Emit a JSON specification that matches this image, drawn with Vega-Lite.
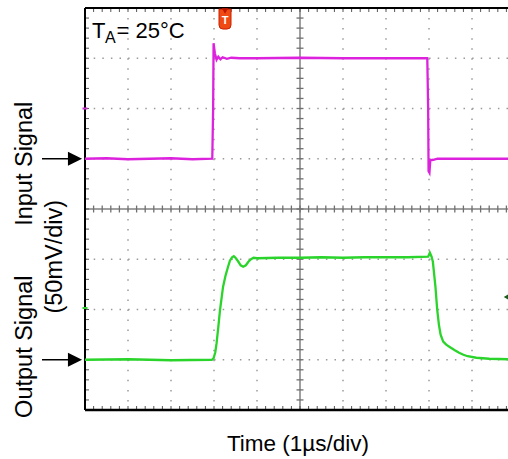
{
  "$schema": "https://vega.github.io/schema/vega-lite/v6.json",
  "width": 423,
  "height": 402,
  "autosize": {"type": "none"},
  "padding": {"left": 85, "top": 8, "right": 0, "bottom": 49},
  "background": "white",
  "config": {"view": {"stroke": null}, "font": "Liberation Sans"},
  "datasets": {
    "cx": [0.2,0.4,0.6,0.8,1,1.2,1.4,1.6,1.8,2,2.2,2.4,2.6,2.8,3,3.2,3.4,3.6,3.8,4,4.2,4.4,4.6,4.8,5,5.2,5.4,5.6,5.8,6,6.2,6.4,6.6,6.8,7,7.2,7.4,7.6,7.8,8,8.2,8.4,8.6,8.8,9,9.2,9.4,9.6,9.8],
    "cy": [0.2,0.4,0.6,0.8,1,1.2,1.4,1.6,1.8,2,2.2,2.4,2.6,2.8,3,3.2,3.4,3.6,3.8,4,4.2,4.4,4.6,4.8,5,5.2,5.4,5.6,5.8,6,6.2,6.4,6.6,6.8,7,7.2,7.4,7.6,7.8]
  },
  "layer": [
    {
      "data": {"values": [1, 2, 3, 4, 6, 7, 8, 9]},
      "mark": {"type": "rule", "color": "#9a9a9a", "strokeWidth": 1.5, "strokeDash": [1.5, 8.55]},
      "encoding": {
        "x": {
          "field": "data", "type": "quantitative",
          "scale": {"domain": [0, 9.837], "nice": false, "zero": false},
          "axis": null
        }
      }
    },
    {
      "data": {"values": [1, 2, 3, 5, 6, 7]},
      "mark": {"type": "rule", "color": "#9a9a9a", "strokeWidth": 1.5, "strokeDash": [1.5, 7.1]},
      "encoding": {
        "y": {
          "field": "data", "type": "quantitative",
          "scale": {"domain": [0, 8], "nice": false, "zero": false},
          "axis": null
        }
      }
    },
    {
      "data": {"values": [5]},
      "mark": {"type": "rule", "color": "#808080", "strokeWidth": 1.5},
      "encoding": {"x": {"field": "data", "type": "quantitative", "axis": null}}
    },
    {
      "data": {"values": [4]},
      "mark": {"type": "rule", "color": "#808080", "strokeWidth": 1.5},
      "encoding": {"y": {"field": "data", "type": "quantitative", "axis": null}}
    },
    {
      "data": {"name": "cx"},
      "mark": {"type": "tick", "orient": "vertical", "size": 7, "thickness": 1.3, "color": "#707070", "opacity": 1},
      "encoding": {
        "x": {"field": "data", "type": "quantitative", "axis": null},
        "y": {"datum": 4, "type": "quantitative", "axis": null}
      }
    },
    {
      "data": {"name": "cy"},
      "mark": {"type": "tick", "orient": "horizontal", "size": 7, "thickness": 1.3, "color": "#707070", "opacity": 1},
      "encoding": {
        "y": {"field": "data", "type": "quantitative", "axis": null},
        "x": {"datum": 5, "type": "quantitative", "axis": null}
      }
    },
    {
      "data": {"name": "cx"},
      "mark": {"type": "tick", "orient": "vertical", "size": 8, "thickness": 1, "color": "#555555", "opacity": 1, "clip": true},
      "encoding": {
        "x": {"field": "data", "type": "quantitative", "axis": null},
        "y": {"datum": 8, "type": "quantitative", "axis": null}
      }
    },
    {
      "data": {"name": "cx"},
      "mark": {"type": "tick", "orient": "vertical", "size": 8, "thickness": 1, "color": "#555555", "opacity": 1, "clip": true},
      "encoding": {
        "x": {"field": "data", "type": "quantitative", "axis": null},
        "y": {"datum": 0, "type": "quantitative", "axis": null}
      }
    },
    {
      "data": {"name": "cy"},
      "mark": {"type": "tick", "orient": "horizontal", "size": 8, "thickness": 1, "color": "#555555", "opacity": 1, "clip": true},
      "encoding": {
        "y": {"field": "data", "type": "quantitative", "axis": null},
        "x": {"datum": 0, "type": "quantitative", "axis": null}
      }
    },
    {
      "data": {"values": [{}]},
      "layer": [
        {
          "mark": {"type": "rule", "color": "#000000", "strokeWidth": 2},
          "encoding": {"x": {"datum": 0, "type": "quantitative", "axis": null}}
        },
        {
          "mark": {"type": "rule", "color": "#000000", "strokeWidth": 2},
          "encoding": {"y": {"datum": 8, "type": "quantitative", "axis": null}}
        },
        {
          "mark": {"type": "rule", "color": "#000000", "strokeWidth": 2.5},
          "encoding": {"y": {"datum": 0, "type": "quantitative", "axis": null}}
        }
      ]
    },
    {
      "data": {"values": [
        {"t": 0, "v": 5.0}, {"t": 0.5, "v": 5.01}, {"t": 1, "v": 4.99}, {"t": 1.5, "v": 5.0},
        {"t": 2, "v": 5.01}, {"t": 2.5, "v": 4.99}, {"t": 2.96, "v": 5.0}, {"t": 2.98, "v": 6.0},
        {"t": 2.99, "v": 7.3}, {"t": 3.02, "v": 7.1}, {"t": 3.06, "v": 6.97}, {"t": 3.1, "v": 7.03},
        {"t": 3.15, "v": 6.98}, {"t": 3.2, "v": 7.02}, {"t": 3.3, "v": 6.99}, {"t": 3.4, "v": 7.01},
        {"t": 3.6, "v": 7.0}, {"t": 4, "v": 7.0}, {"t": 5, "v": 7.01}, {"t": 6, "v": 7.0},
        {"t": 7, "v": 7.0}, {"t": 7.96, "v": 7.0}, {"t": 7.98, "v": 6.0}, {"t": 7.99, "v": 4.75},
        {"t": 8.01, "v": 4.72}, {"t": 8.03, "v": 4.97}, {"t": 8.1, "v": 4.98}, {"t": 8.2, "v": 5.0},
        {"t": 9, "v": 5.0}, {"t": 9.84, "v": 5.0}
      ]},
      "mark": {"type": "line", "color": "#dd22dd", "strokeWidth": 2.3},
      "encoding": {
        "x": {"field": "t", "type": "quantitative", "axis": null},
        "y": {"field": "v", "type": "quantitative", "axis": null}
      }
    },
    {
      "data": {"values": [
        {"t": 0, "v": 1.0}, {"t": 1, "v": 1.01}, {"t": 2, "v": 0.99}, {"t": 2.95, "v": 1.0},
        {"t": 2.99, "v": 1.03}, {"t": 3.03, "v": 1.15}, {"t": 3.06, "v": 1.33}, {"t": 3.1, "v": 1.65},
        {"t": 3.14, "v": 1.99}, {"t": 3.18, "v": 2.25}, {"t": 3.21, "v": 2.45}, {"t": 3.27, "v": 2.68},
        {"t": 3.32, "v": 2.83}, {"t": 3.37, "v": 2.97}, {"t": 3.42, "v": 3.04}, {"t": 3.46, "v": 3.06},
        {"t": 3.5, "v": 3.03}, {"t": 3.56, "v": 2.96}, {"t": 3.62, "v": 2.88}, {"t": 3.68, "v": 2.85},
        {"t": 3.74, "v": 2.88}, {"t": 3.8, "v": 2.95}, {"t": 3.86, "v": 3.0}, {"t": 3.92, "v": 3.03},
        {"t": 4.0, "v": 3.02}, {"t": 4.5, "v": 3.03}, {"t": 5, "v": 3.03}, {"t": 5.5, "v": 3.04},
        {"t": 6, "v": 3.03}, {"t": 6.5, "v": 3.04}, {"t": 7, "v": 3.04}, {"t": 7.5, "v": 3.04},
        {"t": 7.98, "v": 3.05}, {"t": 8.02, "v": 3.13}, {"t": 8.06, "v": 3.05}, {"t": 8.09, "v": 2.95},
        {"t": 8.12, "v": 2.7}, {"t": 8.15, "v": 2.45}, {"t": 8.19, "v": 2.0}, {"t": 8.23, "v": 1.7},
        {"t": 8.27, "v": 1.5}, {"t": 8.33, "v": 1.36}, {"t": 8.4, "v": 1.3}, {"t": 8.49, "v": 1.25},
        {"t": 8.6, "v": 1.19}, {"t": 8.7, "v": 1.14}, {"t": 8.8, "v": 1.1}, {"t": 8.9, "v": 1.07},
        {"t": 9.1, "v": 1.04}, {"t": 9.4, "v": 1.02}, {"t": 9.84, "v": 1.01}
      ]},
      "mark": {"type": "line", "color": "#2ad42a", "strokeWidth": 2.3},
      "encoding": {
        "x": {"field": "t", "type": "quantitative", "axis": null},
        "y": {"field": "v", "type": "quantitative", "axis": null}
      }
    },
    {
      "data": {"values": [{"lvl": 5}, {"lvl": 1}]},
      "layer": [
        {
          "mark": {"type": "rule", "color": "#000000", "strokeWidth": 1.5},
          "encoding": {
            "x": {"datum": -1.0, "type": "quantitative", "axis": null},
            "x2": {"datum": -0.3},
            "y": {"field": "lvl", "type": "quantitative", "axis": null}
          }
        },
        {
          "mark": {"type": "point", "shape": "M-1,-1L1,0L-1,1Z", "filled": true, "color": "#000000", "size": 200, "opacity": 1},
          "encoding": {
            "x": {"datum": -0.233, "type": "quantitative", "axis": null},
            "y": {"field": "lvl", "type": "quantitative", "axis": null}
          }
        }
      ]
    },
    {
      "data": {"values": [{}]},
      "layer": [
        {
          "mark": {"type": "text", "text": "T", "fontSize": 22, "align": "left", "baseline": "alphabetic", "color": "#000000", "font": "Liberation Sans"},
          "encoding": {"x": {"datum": 0.163, "type": "quantitative", "axis": null}, "y": {"datum": 7.4, "type": "quantitative", "axis": null}}
        },
        {
          "mark": {"type": "text", "text": "A", "fontSize": 16, "align": "left", "baseline": "alphabetic", "color": "#000000", "font": "Liberation Sans"},
          "encoding": {"x": {"datum": 0.465, "type": "quantitative", "axis": null}, "y": {"datum": 7.3, "type": "quantitative", "axis": null}}
        },
        {
          "mark": {"type": "text", "text": "= 25°C", "fontSize": 22, "align": "left", "baseline": "alphabetic", "color": "#000000", "font": "Liberation Sans"},
          "encoding": {"x": {"datum": 0.733, "type": "quantitative", "axis": null}, "y": {"datum": 7.4, "type": "quantitative", "axis": null}}
        },
        {
          "mark": {"type": "text", "text": "Time (1µs/div)", "fontSize": 22.5, "align": "center", "baseline": "alphabetic", "color": "#000000", "font": "Liberation Sans"},
          "encoding": {"x": {"datum": 4.953, "type": "quantitative", "axis": null}, "y": {"datum": -0.81, "type": "quantitative", "axis": null}}
        },
        {
          "mark": {"type": "text", "text": "Input Signal", "fontSize": 23.5, "angle": 270, "align": "center", "baseline": "middle", "color": "#000000", "font": "Liberation Sans"},
          "encoding": {"x": {"datum": -1.384, "type": "quantitative", "axis": null}, "y": {"datum": 4.9, "type": "quantitative", "axis": null}}
        },
        {
          "mark": {"type": "text", "text": "Output Signal", "fontSize": 23.5, "angle": 270, "align": "center", "baseline": "middle", "color": "#000000", "font": "Liberation Sans"},
          "encoding": {"x": {"datum": -1.395, "type": "quantitative", "axis": null}, "y": {"datum": 1.26, "type": "quantitative", "axis": null}}
        },
        {
          "mark": {"type": "text", "text": "(50mV/div)", "fontSize": 23.5, "angle": 270, "align": "center", "baseline": "middle", "color": "#000000", "font": "Liberation Sans"},
          "encoding": {"x": {"datum": -0.70, "type": "quantitative", "axis": null}, "y": {"datum": 3.05, "type": "quantitative", "axis": null}}
        },
        {
          "mark": {"type": "point", "shape": "M-0.6,-1L0.6,-1L0.6,0.6Q0.6,1 0.2,1L-0.2,1Q-0.6,1 -0.6,0.6Z", "filled": true, "color": "#f04a14", "stroke": "#c82000", "strokeWidth": 1, "size": 400, "opacity": 1},
          "encoding": {"x": {"datum": 3.256, "type": "quantitative", "axis": null}, "y": {"datum": 7.78, "type": "quantitative", "axis": null}}
        },
        {
          "mark": {"type": "point", "shape": "triangle-down", "filled": true, "color": "#c01800", "size": 40, "opacity": 1},
          "encoding": {"x": {"datum": 3.256, "type": "quantitative", "axis": null}, "y": {"datum": 7.94, "type": "quantitative", "axis": null}}
        },
        {
          "mark": {"type": "text", "text": "T", "fontSize": 11, "fontWeight": "bold", "align": "center", "baseline": "middle", "color": "#ffffff", "font": "Liberation Sans"},
          "encoding": {"x": {"datum": 3.256, "type": "quantitative", "axis": null}, "y": {"datum": 7.74, "type": "quantitative", "axis": null}}
        },
        {
          "mark": {"type": "point", "shape": "triangle-left", "filled": true, "color": "#1a5c1a", "size": 50, "opacity": 1},
          "encoding": {"x": {"datum": 9.81, "type": "quantitative", "axis": null}, "y": {"datum": 2.25, "type": "quantitative", "axis": null}}
        },
        {
          "mark": {"type": "tick", "orient": "horizontal", "size": 5, "thickness": 2, "color": "#cc33cc", "opacity": 1},
          "encoding": {"x": {"datum": 0, "type": "quantitative", "axis": null}, "y": {"datum": 6.0, "type": "quantitative", "axis": null}}
        },
        {
          "mark": {"type": "tick", "orient": "horizontal", "size": 5, "thickness": 2, "color": "#33cc33", "opacity": 1},
          "encoding": {"x": {"datum": 0, "type": "quantitative", "axis": null}, "y": {"datum": 2.03, "type": "quantitative", "axis": null}}
        }
      ]
    }
  ]
}
